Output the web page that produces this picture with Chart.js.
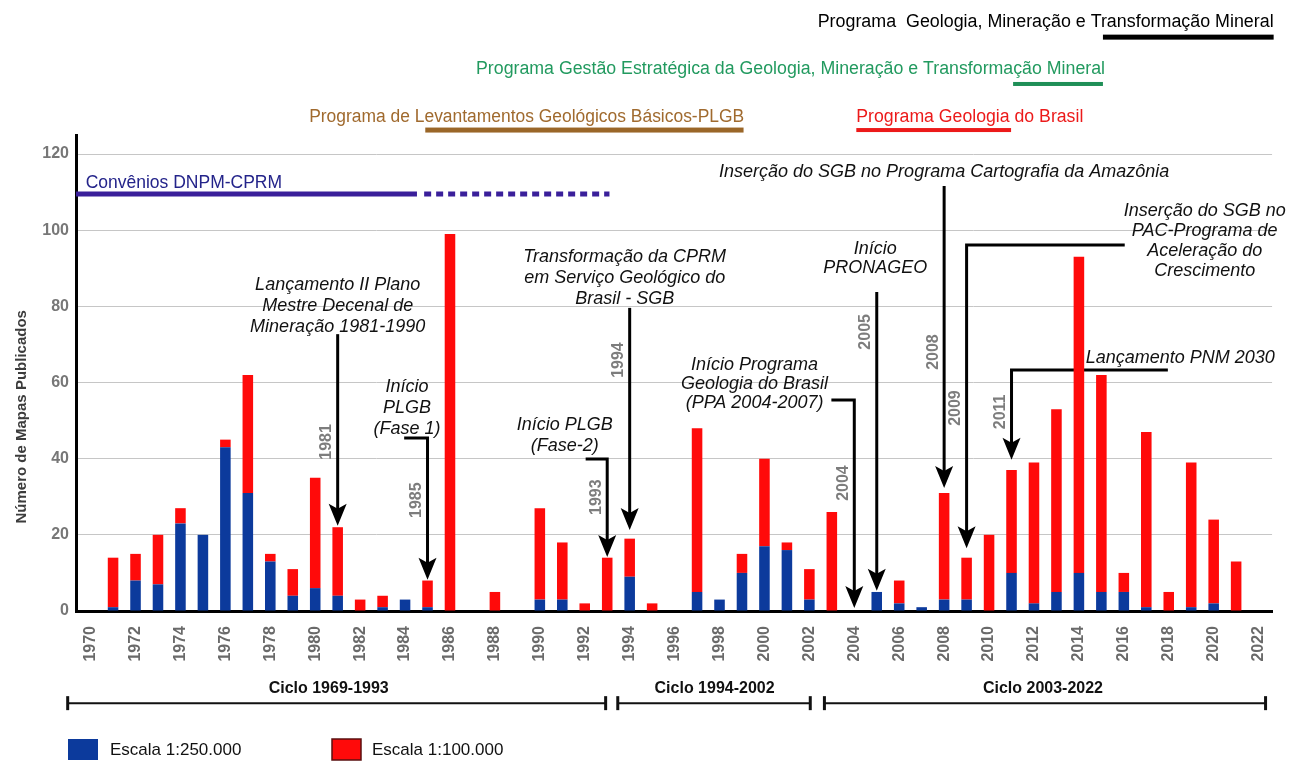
<!DOCTYPE html>
<html lang="pt-BR">
<head>
<meta charset="utf-8">
<title>Mapas geológicos publicados por ano</title>
<script src="https://cdn.jsdelivr.net/npm/chart.js@4.4.1/dist/chart.umd.min.js"></script>
<style>
  html, body { margin: 0; padding: 0; background: #fff; }
  #grafico { display: block; }
</style>
</head>
<body>
<canvas id="grafico" width="1293" height="761"></canvas>
<script>
// anos e número de mapas publicados por escala
const anos = [
  1970, 1971, 1972, 1973, 1974, 1975, 1976, 1977, 1978, 1979,
  1980, 1981, 1982, 1983, 1984, 1985, 1986, 1987, 1988, 1989,
  1990, 1991, 1992, 1993, 1994, 1995, 1996, 1997, 1998, 1999,
  2000, 2001, 2002, 2003, 2004, 2005, 2006, 2007, 2008, 2009,
  2010, 2011, 2012, 2013, 2014, 2015, 2016, 2017, 2018, 2019,
  2020, 2021, 2022
];
const escala250 = [
  0, 1, 8, 7, 23, 20, 43, 31, 13, 4,
  6, 4, 0, 1, 3, 1, 0, 0, 0, 0,
  3, 3, 0, 0, 9, 0, 0, 5, 3, 10,
  17, 16, 3, 0, 0, 5, 2, 1, 3, 3,
  0, 10, 2, 5, 10, 5, 5, 1, 0, 1,
  2, 0, 0
];
const escala100 = [
  0, 13, 7, 13, 4, 0, 2, 31, 2, 7,
  29, 18, 3, 3, 0, 7, 99, 0, 5, 0,
  24, 15, 2, 14, 10, 2, 0, 43, 0, 5,
  23, 2, 8, 26, 0, 0, 6, 0, 28, 11,
  20, 27, 37, 48, 83, 57, 5, 46, 5, 38,
  22, 13, 0
];
const anosRotulados = [
  1970, 1972, 1974, 1976, 1978, 1980, 1982, 1984, 1986, 1988, 1990, 1992, 1994,
  1996, 1998, 2000, 2002, 2004, 2006, 2008, 2010, 2012, 2014, 2016, 2018, 2020, 2022
];
const ticksY = [0, 20, 40, 60, 80, 100, 120];

// programas (texto + barra de período), em coordenadas dos eixos
const programas = [
  { texto: "Programa  Geologia, Mineração e Transformação Mineral", cor: "#000000", barra: "#000000", ano: 2022.67, alinhar: "right", largura: 456, valor: 154.7, de: 2015.07, ate: 2022.67, linha: 150.7, esp: 5 },
  { texto: "Programa Gestão Estratégica da Geologia, Mineração e Transformação Mineral", cor: "#229a5f", barra: "#1f8f57", ano: 2001.16, alinhar: "center", largura: 629, valor: 142.3, de: 2011.07, ate: 2015.07, linha: 138.4, esp: 4 },
  { texto: "Programa de Levantamentos Geológicos Básicos-PLGB", cor: "#a06a2e", barra: "#9a6628", ano: 1979.73, alinhar: "left", largura: 435, valor: 129.7, de: 1984.9, ate: 1999.07, linha: 126.3, esp: 5 },
  { texto: "Programa Geologia do Brasil", cor: "#ec1a1a", barra: "#ec1a1a", ano: 2004.09, alinhar: "left", largura: 227, valor: 129.7, de: 2004.09, ate: 2010.98, linha: 126.3, esp: 4 }
];

// eventos com setas
const eventos = [
  { linhas: ["Lançamento II Plano", "Mestre Decenal de", "Mineração 1981-1990"], ano: 1981, valor: 85.6, passo: 21,
    caminho: [[1981, 72.7], [1981, 22.4]], rotulo: "1981", rotuloValor: 44.4 },
  { linhas: ["Início", "PLGB", "(Fase 1)"], ano: 1984.09, valor: 58.8, passo: 21,
    caminho: [[1983.96, 45.4], [1985, 45.4], [1985, 8.2]], rotulo: "1985", rotuloValor: 29.1 },
  { linhas: ["Transformação da CPRM", "em Serviço Geológico do", "Brasil - SGB"], ano: 1993.78, valor: 93.0, passo: 21,
    caminho: [[1994, 79.6], [1994, 21.3]], rotulo: "1994", rotuloValor: 65.9 },
  { linhas: ["Início PLGB", "(Fase-2)"], ano: 1991.11, valor: 48.8, passo: 21,
    caminho: [[1992.04, 39.9], [1993, 39.9], [1993, 14.2]], rotulo: "1993", rotuloValor: 29.9 },
  { linhas: ["Início Programa", "Geologia do Brasil", "(PPA 2004-2007)"], ano: 1999.56, valor: 64.6, passo: 19,
    caminho: [[2002.98, 55.4], [2004, 55.4], [2004, 0.8]], rotulo: "2004", rotuloValor: 33.6 },
  { linhas: ["Início", "PRONAGEO"], ano: 2004.93, valor: 95.1, passo: 19,
    caminho: [[2005, 83.8], [2005, 5.3]], rotulo: "2005", rotuloValor: 73.3 },
  { linhas: ["Inserção do SGB no Programa Cartografia da Amazônia"], ano: 2008, valor: 115.3, passo: 20,
    caminho: [[2008, 111.6], [2008, 32.3]], rotulo: "2008", rotuloValor: 68.0 },
  { linhas: ["Inserção do SGB no", "PAC-Programa de", "Aceleração do", "Crescimento"], ano: 2019.6, valor: 105.0, passo: 20,
    caminho: [[2016.04, 96.1], [2009, 96.1], [2009, 16.5]], rotulo: "2009", rotuloValor: 53.3 },
  { linhas: ["Lançamento PNM 2030"], ano: 2018.51, valor: 66.4, passo: 20,
    caminho: [[2017.96, 63.3], [2011, 63.3], [2011, 39.7]], rotulo: "2011", rotuloValor: 52.3 }
];

const ciclos = [
  { texto: "Ciclo 1969-1993", de: 1968.98, ate: 1992.93, centro: 1980.6 },
  { texto: "Ciclo 1994-2002", de: 1993.47, ate: 2002.04, centro: 1997.78 },
  { texto: "Ciclo 2003-2022", de: 2002.67, ate: 2022.31, centro: 2012.4 }
];

const AZUL = "#0c3a9c", VERMELHO = "#ff0a0a", FONTE = "'Liberation Sans', Arial, sans-serif";

function seta(ctx, pts) {
  ctx.beginPath();
  ctx.moveTo(pts[0][0], pts[0][1]);
  for (let i = 1; i < pts.length - 1; i++) ctx.lineTo(pts[i][0], pts[i][1]);
  const [tx, ty] = pts[pts.length - 1];
  ctx.lineTo(tx, ty - 14);
  ctx.stroke();
  ctx.beginPath();
  ctx.moveTo(tx, ty);
  ctx.lineTo(tx - 9, ty - 22);
  ctx.lineTo(tx, ty - 17);
  ctx.lineTo(tx + 9, ty - 22);
  ctx.closePath();
  ctx.fill();
}

const anotacoes = {
  id: "anotacoes",
  beforeDatasetsDraw(chart) {
    const ctx = chart.ctx, sx = chart.scales.x, sy = chart.scales.y;
    const px = (a) => sx.getPixelForValue(a), py = (v) => sy.getPixelForValue(v);
    ctx.save();

    // programas
    programas.forEach((p) => {
      ctx.font = "18px " + FONTE;
      ctx.fillStyle = p.cor;
      ctx.textAlign = p.alinhar;
      ctx.textBaseline = "middle";
      ctx.fillText(p.texto, px(p.ano), py(p.valor), p.largura);
      ctx.fillStyle = p.barra;
      ctx.fillRect(px(p.de), py(p.linha) - p.esp / 2, px(p.ate) - px(p.de), p.esp);
    });

    // Convênios DNPM-CPRM
    ctx.font = "17.5px " + FONTE;
    ctx.fillStyle = "#24248a";
    ctx.textAlign = "left";
    ctx.fillText("Convênios DNPM-CPRM", px(1969.78), py(112.4));
    ctx.strokeStyle = "#3a1f9a";
    ctx.lineWidth = 5;
    ctx.beginPath();
    ctx.moveTo(chart.chartArea.left, py(109.5));
    ctx.lineTo(px(1984.53), py(109.5));
    ctx.stroke();
    ctx.setLineDash([7, 5]);
    ctx.beginPath();
    ctx.moveTo(px(1984.85), py(109.5));
    ctx.lineTo(px(1993.1), py(109.5));
    ctx.stroke();
    ctx.setLineDash([]);

    // eventos
    eventos.forEach((e) => {
      ctx.font = "italic 18px " + FONTE;
      ctx.fillStyle = "#111";
      ctx.textAlign = "center";
      e.linhas.forEach((l, i) => ctx.fillText(l, px(e.ano), py(e.valor) + i * e.passo));
      ctx.strokeStyle = "#000";
      ctx.fillStyle = "#000";
      ctx.lineWidth = 3;
      ctx.lineJoin = "miter";
      seta(ctx, e.caminho.map(([a, v]) => [px(a), py(v)]));
      const [a0] = e.caminho[e.caminho.length - 1];
      ctx.save();
      ctx.translate(px(a0) - 11, py(e.rotuloValor));
      ctx.rotate(-Math.PI / 2);
      ctx.font = "bold 16px " + FONTE;
      ctx.fillStyle = "#7d7d7d";
      ctx.fillText(e.rotulo, 0, 0);
      ctx.restore();
    });

    // ciclos
    ctx.font = "bold 16px " + FONTE;
    ctx.fillStyle = "#111";
    ctx.strokeStyle = "#111";
    ciclos.forEach((c) => {
      ctx.textAlign = "center";
      ctx.fillText(c.texto, px(c.centro), py(-20.5));
      const yl = py(-24.2);
      ctx.lineWidth = 2;
      ctx.beginPath();
      ctx.moveTo(px(c.de), yl);
      ctx.lineTo(px(c.ate), yl);
      ctx.stroke();
      ctx.lineWidth = 3;
      [c.de, c.ate].forEach((a) => {
        ctx.beginPath();
        ctx.moveTo(px(a), yl - 7);
        ctx.lineTo(px(a), yl + 7);
        ctx.stroke();
      });
    });

    // título do eixo y
    ctx.save();
    ctx.translate(chart.chartArea.left - 54, py(51));
    ctx.rotate(-Math.PI / 2);
    ctx.font = "bold 15px " + FONTE;
    ctx.fillStyle = "#3c3c3c";
    ctx.textAlign = "center";
    ctx.fillText("Número de Mapas Publicados", 0, 0);
    ctx.restore();

    // legenda
    ctx.textAlign = "left";
    ctx.font = "17px " + FONTE;
    ctx.fillStyle = AZUL;
    ctx.fillRect(68, 739, 30, 21);
    ctx.fillStyle = "#111";
    ctx.fillText("Escala 1:250.000", 110, 750);
    ctx.fillStyle = VERMELHO;
    ctx.fillRect(332, 739, 29, 21);
    ctx.strokeStyle = "#5a1010";
    ctx.lineWidth = 1.5;
    ctx.strokeRect(332, 739, 29, 21);
    ctx.fillStyle = "#111";
    ctx.fillText("Escala 1:100.000", 372, 750);

    ctx.restore();
  }
};

new Chart(document.getElementById("grafico").getContext("2d"), {
  type: "bar",
  data: {
    labels: anos,
    datasets: [
      { label: "Escala 1:250.000", data: escala250, backgroundColor: AZUL, borderWidth: 0 },
      { label: "Escala 1:100.000", data: escala100, backgroundColor: VERMELHO, borderWidth: 0 }
    ]
  },
  options: {
    responsive: false,
    animation: false,
    devicePixelRatio: 1,
    layout: { padding: { top: 135, right: 18, left: 0, bottom: 0 } },
    datasets: { bar: { barPercentage: 0.47, categoryPercentage: 1 } },
    plugins: { legend: { display: false }, tooltip: { enabled: false } },
    scales: {
      x: {
        type: "linear",
        min: 1969.35,
        max: 2022.6,
        stacked: true,
        offset: false,
        grid: { display: false, drawTicks: false },
        border: { display: true, color: "#000", width: 3 },
        afterBuildTicks: (s) => { s.ticks = anosRotulados.map((v) => ({ value: v })); },
        afterFit: (s) => { s.height = 150; },
        ticks: {
          autoSkip: false,
          minRotation: 90,
          maxRotation: 90,
          padding: 15,
          color: "#6a6a6a",
          font: { family: FONTE, size: 16, weight: "bold" },
          callback: (v) => String(v)
        }
      },
      y: {
        min: 0,
        max: 125,
        stacked: true,
        grid: { color: "#c6c6c6", lineWidth: 1, drawTicks: false },
        border: { display: true, color: "#000", width: 3 },
        afterBuildTicks: (s) => { s.ticks = ticksY.map((v) => ({ value: v })); },
        afterFit: (s) => { s.width = 76; },
        ticks: {
          padding: 7,
          color: "#777",
          font: { family: FONTE, size: 16, weight: "bold" }
        }
      }
    }
  },
  plugins: [anotacoes]
});
</script>
</body>
</html>
